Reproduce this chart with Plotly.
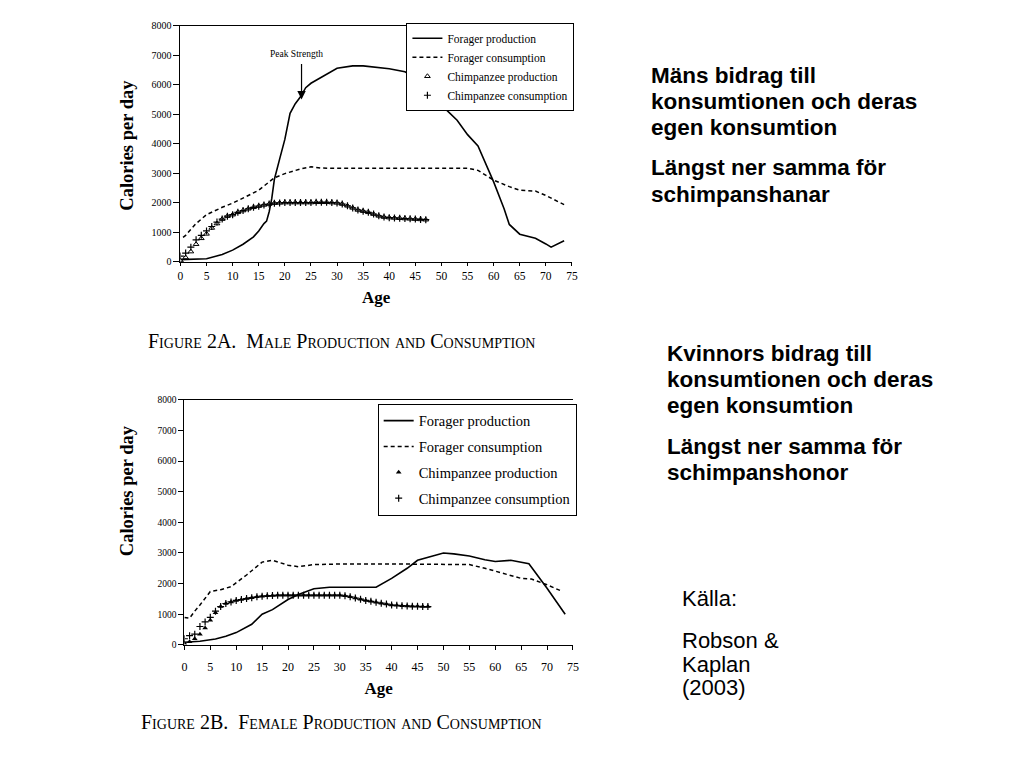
import plotly.graph_objects as go

# ---------------- data ----------------
# Figure 2A: male
male_prod_age = [0, 2, 5, 8, 10, 12, 14, 15, 16, 16.5, 17, 17.5, 18, 19, 20, 21, 22, 23, 24, 25,
                 27, 30, 33, 35, 40, 43, 45, 47, 50, 53, 55, 57, 60, 62, 63, 65, 68, 70, 71, 73.5]
male_prod = [80, 100, 110, 250, 400, 600, 850, 1050, 1300, 1380, 1700, 2150, 2800, 3480, 4150, 5030,
             5360, 5590, 5900, 6050, 6250, 6560, 6640, 6640, 6540, 6440, 6250, 5860, 5310, 4800,
             4310, 3930, 2710, 1800, 1270, 940, 800, 610, 500, 720]
male_cons_age = [0.5, 1, 3, 5, 8, 10, 13, 15, 18, 20, 23, 25, 27, 30, 40, 50, 55, 57, 60, 63, 65, 68, 70, 73.5]
male_cons = [830, 900, 1300, 1600, 1850, 1990, 2250, 2430, 2850, 2990, 3150, 3220, 3180, 3170,
             3170, 3170, 3170, 3100, 2770, 2550, 2430, 2400, 2250, 1940]
chimp_age = list(range(0, 48))
male_chimp_prod = [50, 150, 350, 600, 800, 950, 1150, 1300, 1450, 1550, 1600, 1680, 1740, 1800, 1850,
                   1890, 1930, 1960, 1990, 2000, 2010, 2010, 2010, 2010, 2010, 2010, 2020, 2020, 2020,
                   2010, 2000, 1960, 1900, 1830, 1760, 1720, 1680, 1620, 1560, 1520, 1500, 1490, 1480,
                   1470, 1460, 1450, 1440, 1430]
male_chimp_cons = [200, 300, 500, 750, 900, 1050, 1200, 1350, 1450, 1550, 1600, 1680, 1740, 1800, 1850,
                   1890, 1930, 1960, 1990, 2000, 2010, 2010, 2010, 2010, 2010, 2010, 2020, 2020, 2020,
                   2010, 2000, 1960, 1900, 1830, 1760, 1720, 1680, 1620, 1560, 1520, 1500, 1490, 1480,
                   1470, 1460, 1450, 1440, 1430]

# Figure 2B: female
fem_prod_age = [0, 3, 6, 8, 10, 13, 15, 17, 20, 22, 25, 28, 32, 37, 40, 43, 45, 48, 50, 52, 55, 58,
                60, 63, 66.5, 70, 73.5]
fem_prod = [85, 120, 190, 280, 400, 670, 1000, 1150, 1480, 1640, 1830, 1880, 1880, 1880, 2170, 2500,
            2760, 2900, 3000, 2970, 2900, 2780, 2720, 2760, 2650, 1850, 1000]
fem_cons_age = [0, 1, 2, 3, 5, 7, 9, 12, 15, 17, 20, 22, 25, 30, 40, 50, 55, 58, 60, 63, 65, 67, 70, 73]
fem_cons = [890, 870, 1100, 1300, 1740, 1800, 1900, 2280, 2700, 2760, 2600, 2550, 2620, 2640, 2640,
            2640, 2620, 2500, 2400, 2250, 2170, 2150, 1960, 1740]
fem_chimp_prod = [50, 100, 200, 350, 550, 800, 1050, 1250, 1350, 1400, 1450, 1480, 1510, 1540, 1570,
                  1590, 1600, 1610, 1620, 1620, 1620, 1620, 1620, 1620, 1620, 1620, 1620, 1620, 1620,
                  1620, 1620, 1600, 1570, 1530, 1490, 1450, 1420, 1390, 1360, 1330, 1300, 1290, 1280,
                  1270, 1260, 1260, 1250, 1250]
fem_chimp_cons = [200, 300, 350, 600, 750, 900, 1100, 1250, 1350, 1400, 1450, 1480, 1510, 1540, 1570,
                  1590, 1600, 1610, 1620, 1620, 1620, 1620, 1620, 1620, 1620, 1620, 1620, 1620, 1620,
                  1620, 1620, 1600, 1570, 1530, 1490, 1450, 1420, 1390, 1360, 1330, 1300, 1290, 1280,
                  1270, 1260, 1260, 1250, 1250]

x_ticks = [0, 5, 10, 15, 20, 25, 30, 35, 40, 45, 50, 55, 60, 65, 70, 75]
y_ticks = [0, 1000, 2000, 3000, 4000, 5000, 6000, 7000, 8000]
series_names = ["Forager production", "Forager consumption", "Chimpanzee production", "Chimpanzee consumption"]

caption_a = "Figure 2A.  Male Production and Consumption"
caption_b = "Figure 2B.  Female Production and Consumption"
text_male = ["Mäns bidrag till", "konsumtionen och deras", "egen konsumtion"]
text_male2 = ["Längst ner samma för", "schimpanshanar"]
text_fem = ["Kvinnors bidrag till", "konsumtionen och deras", "egen konsumtion"]
text_fem2 = ["Längst ner samma för", "schimpanshonor"]
source_lines = ["Källa:", "Robson &", "Kaplan", "(2003)"]

# ---------------- layout helpers ----------------
W, H = 1024, 768
def px(x):
    return x / W
def py(y):
    return 1 - y / H

SERIF = "Liberation Serif, Times New Roman, serif"
SANS = "Liberation Sans, Arial, sans-serif"

fig = go.Figure()

# top chart (x, y)
fig.add_trace(go.Scatter(x=male_prod_age, y=male_prod, mode="lines", name=series_names[0],
                         line=dict(color="black", width=1.6), legend="legend", xaxis="x", yaxis="y"))
fig.add_trace(go.Scatter(x=male_cons_age, y=male_cons, mode="lines", name=series_names[1],
                         line=dict(color="black", width=1.5, dash="4px,3px"), legend="legend", xaxis="x", yaxis="y"))
fig.add_trace(go.Scatter(x=chimp_age, y=male_chimp_prod, mode="markers", name=series_names[2],
                         marker=dict(symbol="triangle-up-open", size=5, color="black", line=dict(width=1)),
                         legend="legend", xaxis="x", yaxis="y"))
fig.add_trace(go.Scatter(x=chimp_age, y=male_chimp_cons, mode="markers", name=series_names[3],
                         marker=dict(symbol="cross-thin", size=5, color="black", line=dict(width=1.2, color="black")),
                         legend="legend", xaxis="x", yaxis="y"))

# bottom chart (x2, y2)
for i, (xx, yy, kw) in enumerate([
    (fem_prod_age, fem_prod, dict(mode="lines", line=dict(color="black", width=1.6))),
    (fem_cons_age, fem_cons, dict(mode="lines", line=dict(color="black", width=1.5, dash="4px,3px"))),
    (chimp_age, fem_chimp_prod, dict(mode="markers", marker=dict(symbol="triangle-up", size=5, color="black"))),
    (chimp_age, fem_chimp_cons, dict(mode="markers", marker=dict(symbol="cross-thin", size=5, color="black",
                                                                  line=dict(width=1.2, color="black")))),
]):
    fig.add_trace(go.Scatter(x=xx, y=yy, name=series_names[i], legend="legend2", legendgroup="g%d" % i,
                             xaxis="x2", yaxis="y2", **kw))

axis_common = dict(showgrid=False, zeroline=False, showline=True, linecolor="black", linewidth=1,
                   ticks="outside", tickcolor="black")

fig.update_layout(
    width=W, height=H, margin=dict(l=0, r=0, t=0, b=0),
    paper_bgcolor="white", plot_bgcolor="white",
    font=dict(family=SERIF, color="black"),
    xaxis=dict(domain=[px(179), px(574)], range=[0, 75], tickvals=x_ticks, anchor="y",
               mirror=True, ticklen=3, tickfont=dict(size=11.5, family=SERIF),
               title=dict(text="<b>Age</b>", font=dict(size=17, family=SERIF), standoff=10), **axis_common),
    yaxis=dict(domain=[py(260), py(20)], range=[0, 8000], tickvals=y_ticks, anchor="x",
               ticklen=6, tickfont=dict(size=10, family=SERIF), **axis_common),
    xaxis2=dict(domain=[px(183), px(575)], range=[0, 75], tickvals=x_ticks, anchor="y2",
                mirror=True, ticklen=4, ticklabelstandoff=7, tickfont=dict(size=12, family=SERIF),
                title=dict(text="<b>Age</b>", font=dict(size=17, family=SERIF), standoff=8), **axis_common),
    yaxis2=dict(domain=[py(649), py(400)], range=[0, 8000], tickvals=y_ticks, anchor="x2",
                ticklen=5, tickfont=dict(size=9.5, family=SERIF), **axis_common),
    legend=dict(x=px(407), y=py(17), xanchor="left", yanchor="top", bgcolor="white",
                bordercolor="black", borderwidth=1, font=dict(size=11.5, family=SERIF),
                tracegroupgap=0, itemwidth=30),
    legend2=dict(x=px(378), y=py(404), xanchor="left", yanchor="top", bgcolor="white",
                 bordercolor="black", borderwidth=1, font=dict(size=14.5, family=SERIF),
                 traceorder="grouped", tracegroupgap=4, itemwidth=30),
    showlegend=True,
)

ann = []
# y-axis titles
ann.append(dict(text="<b>Calories per day</b>", x=px(125), y=py(141), xref="paper", yref="paper",
                xanchor="center", yanchor="middle",
                textangle=-90, showarrow=False, font=dict(size=18.5, family=SERIF)))
ann.append(dict(text="<b>Calories per day</b>", x=px(125), y=py(492), xref="paper", yref="paper",
                xanchor="center", yanchor="middle",
                textangle=-90, showarrow=False, font=dict(size=18.5, family=SERIF)))
# Peak strength
ann.append(dict(text="Peak Strength", x=22.2, y=7050, xref="x", yref="y", showarrow=False,
                font=dict(size=9.5, family=SERIF)))
ann.append(dict(text="", x=23.2, y=5500, ax=23.2, ay=6750, xref="x", yref="y", axref="x", ayref="y",
                showarrow=True, arrowhead=2, arrowsize=1.4, arrowwidth=1.2, arrowcolor="black"))
# captions
ann.append(dict(text=caption_a, x=px(341), y=py(340), xref="paper", yref="paper", showarrow=False,
                xanchor="center", yanchor="middle",
                font=dict(size=20, family=SERIF, variant="small-caps")))
ann.append(dict(text=caption_b, x=px(341), y=py(727), xref="paper", yref="paper", showarrow=False,
                xanchor="center", yanchor="middle",
                font=dict(size=20, family=SERIF, variant="small-caps")))

# right-hand texts (one annotation per line, centred on the line)
def add_lines(lines, x0, centers, size, bold):
    for t, c in zip(lines, centers):
        ann.append(dict(text=("<b>%s</b>" % t) if bold else t, x=px(x0), y=py(c),
                        xref="paper", yref="paper", xanchor="left", yanchor="middle",
                        showarrow=False, font=dict(size=size, family=SANS)))

add_lines(text_male, 652, [71, 97, 123.5], 22.5, True)
add_lines(text_male2, 652, [164.5, 191], 22.5, True)
add_lines(text_fem, 668, [353, 379.5, 406], 22.5, True)
add_lines(text_fem2, 668, [447.5, 474], 22.5, True)
add_lines(source_lines[:1], 683, [602], 22, False)
add_lines(source_lines[1:], 683, [645, 668.5, 692], 22, False)

fig.update_layout(annotations=ann)

fig.write_html("out.html", config={"displayModeBar": False},
               post_script="document.body.style.margin='0';")
